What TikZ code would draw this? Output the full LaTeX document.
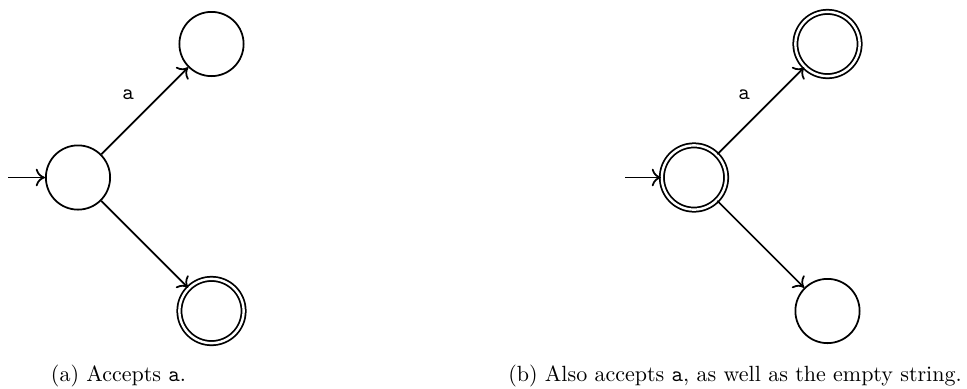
\documentclass[tikz,border=0pt]{standalone}
\usetikzlibrary{arrows.meta}
\begin{document}
\begin{tikzpicture}[x=0.4545pt,y=-0.4545pt,
  line width=0.8pt,
  statenode/.style={circle,draw,minimum size=29.2pt,inner sep=0pt},
  acceptnode/.style={statenode,double,double distance=1.1pt},
  edgeline/.style={-{Computer Modern Rightarrow[length=4.2pt,width=8pt]}},
  lab/.style={font=\ttfamily,inner sep=0pt},
  captext/.style={anchor=base,inner sep=0pt}]
\useasboundingbox (0,0) rectangle (967,388);
% (a)
\node[statenode] (sa) at (78,177.5) {};
\node[statenode] (ta) at (211.5,44) {};
\node[acceptnode] (ba) at (211.5,311) {};
\coordinate (ia) at (8,177.5);
\draw[edgeline] (ia) -- (sa);
\draw[edgeline] (sa) -- node[lab,midway,xshift=-7.5pt,yshift=7.3pt] {a} (ta);
\draw[edgeline] (sa) -- (ba);
\node[captext] (capa) at (118.5,381) {(a) Accepts \texttt{a}.};
% (b)
\node[acceptnode] (sb) at (694,177.5) {};
\node[acceptnode] (tb) at (827.5,44) {};
\node[statenode] (bb) at (827.5,311) {};
\coordinate (ib) at (625,177.5);
\draw[edgeline] (ib) -- (sb);
\draw[edgeline] (sb) -- node[lab,midway,xshift=-7.5pt,yshift=7.3pt] {a} (tb);
\draw[edgeline] (sb) -- (bb);
\node[captext] (capb) at (735,381) {(b) Also accepts \texttt{a}, as well as the empty string.};
\end{tikzpicture}
\end{document}
